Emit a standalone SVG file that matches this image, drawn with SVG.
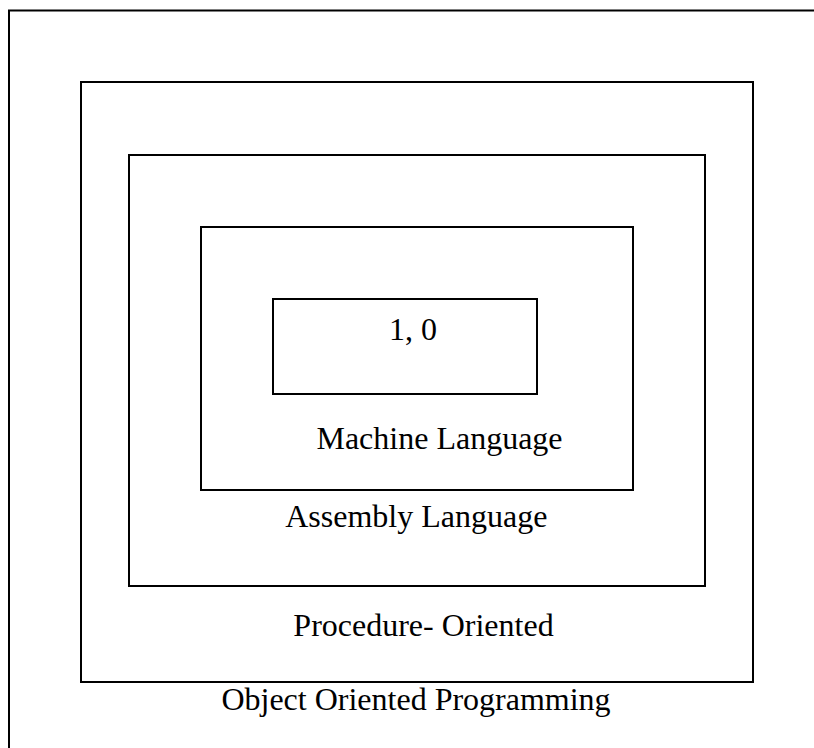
<svg xmlns="http://www.w3.org/2000/svg" width="814" height="748" viewBox="0 0 814 748">
<style>
.box{fill:none;stroke:#000;stroke-width:2}
.lbl{font-family:"Liberation Serif","Times New Roman",serif;font-size:32px;fill:#000;text-anchor:middle}
</style>
<rect width="814" height="748" fill="#fff"/>
<g id="frame"><path class="box" d="M9,748 V10.5 H814"/></g>
<g id="oop"><rect class="box" x="81" y="82" width="672" height="600"/><text class="lbl" x="416" y="710">Object Oriented Programming</text></g>
<g id="procedure"><rect class="box" x="129" y="155" width="576" height="431"/><text class="lbl" x="423.5" y="636">Procedure- Oriented</text></g>
<g id="assembly"><rect class="box" x="201" y="227" width="432" height="263"/><text class="lbl" x="416.3" y="526.7">Assembly Language</text></g>
<g id="machine"><rect class="box" x="273" y="299" width="264" height="95"/><text class="lbl" x="439.5" y="449.3">Machine Language</text></g>
<g id="bits"><text class="lbl" x="413" y="340">1, 0</text></g>
<g id="connectors"></g>
</svg>
